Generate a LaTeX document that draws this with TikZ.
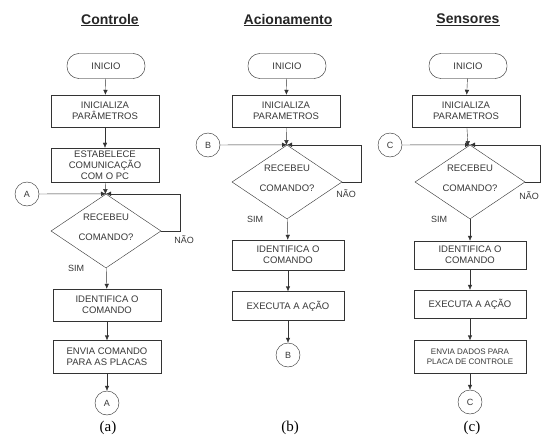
\documentclass[tikz,border=0pt]{standalone}
\usepackage{fontspec}
\setmainfont{Liberation Sans}
\newfontfamily\capfont{Liberation Serif}
\usetikzlibrary{shapes.geometric,arrows.meta,backgrounds}

\definecolor{linha}{gray}{0.2}
\definecolor{texto}{gray}{0.22}

% texto do losango sem alterar o tamanho dele
\newcommand{\pergunta}[2]{\makebox[0pt]{\smash{\begin{tabular}{@{}c@{}}#1\\[9pt]#2\end{tabular}}}}

\tikzset{
  passo/.style={draw=linha,fill=white,text=texto,align=center,inner sep=1pt,
    minimum width=108pt,minimum height=32pt,font=\fontsize{9.5}{11}\selectfont},
  inicio/.style={passo,rounded corners=12pt,minimum width=78pt,minimum height=25pt},
  decisao/.style={diamond,draw=linha,fill=white,text=texto,inner sep=0pt,
    minimum width=110pt,minimum height=74pt,font=\fontsize{9.5}{11}\selectfont},
  conector/.style={circle,draw=linha,fill=white,text=texto,minimum size=24pt,inner sep=0pt,
    font=\fontsize{9}{10}\selectfont},
  titulo/.style={text=black!85,font=\fontsize{14}{16}\selectfont\bfseries},
  rotulo/.style={text=texto,font=\fontsize{9}{10}\selectfont},
  legenda/.style={font=\capfont\fontsize{15}{17}\selectfont},
  seta/.style={draw=linha,-{Latex[length=5pt,width=4.5pt]}},
  sombra/.style={fill=gray!55,shift={(3,3)}},
}

\begin{document}
\begin{tikzpicture}[x=1pt,y=-1pt]
\useasboundingbox (0,0) rectangle (546,441);

% (a) controle
\node[titulo] (ta) at (110,20) {\underline{Controle}};
\node[inicio] (a1) at (106,66) {INICIO};
\node[passo] (a2) at (105,111) {INICIALIZA\\PARÂMETROS};
\node[passo,minimum height=34pt] (a3) at (105,165) {ESTABELECE\\COMUNICAÇÃO\\COM O PC};
\node[decisao] (a4) at (106,231) {\pergunta{RECEBEU}{COMANDO?}};
\node[conector] (ca1) at (27,194) {A};
\node[passo] (a5) at (107,305) {IDENTIFICA O\\COMANDO};
\node[passo,minimum height=33pt] (a6) at (107,357) {ENVIA COMANDO\\PARA AS PLACAS};
\node[conector] (ca2) at (107,403) {A};
\node[legenda] (la) at (108,428) {(a)};

\draw[seta] (a1) -- (a2);
\draw[seta] (a2) -- (a3);
\draw[seta] (a3) -- (a4);
\draw[seta] (ca1) -- (a4.north);
\draw[seta] (a4.east) -- ++(19,0) |- (a4.north);
\draw[seta] (a4) -- (a5);
\draw[seta] (a5) -- (a6);
\draw[seta] (a6) -- (ca2);
\node[rotulo] at ([xshift=23pt,yshift=-9pt]a4.east) {NÃO};
\node[rotulo] at ([xshift=-30pt]a4.south) {SIM};

% (b) acionamento
\node[titulo] (tb) at (288,20) {\underline{Acionamento}};
\node[inicio] (b1) at (287,66) {INICIO};
\node[passo] (b2) at (286,111) {INICIALIZA\\PARAMETROS};
\node[decisao] (b3) at (287,182) {\pergunta{RECEBEU}{COMANDO?}};
\node[conector] (cb1) at (208,145) {B};
\node[passo,minimum width=112pt,minimum height=30pt] (b4) at (288,255) {IDENTIFICA O\\COMANDO};
\node[passo,minimum width=112pt,minimum height=29pt] (b5) at (288,306) {EXECUTA A AÇÃO};
\node[conector] (cb2) at (288,355) {B};
\node[legenda] (lb) at (290,428) {(b)};

\draw[seta] (b1) -- (b2);
\draw[seta] (b2) -- (b3);
\draw[seta] (cb1) -- (b3.north);
\draw[seta] (b3.east) -- ++(19,0) |- (b3.north);
\draw[seta] (b3) -- (b4);
\draw[seta] (b4) -- (b5);
\draw[seta] (b5) -- (cb2);
\node[rotulo] at ([xshift=4pt,yshift=-12pt]b3.east) {NÃO};
\node[rotulo] at ([xshift=-32pt]b3.south) {SIM};

% (c) sensores
\node[titulo] (tc) at (468,20) {\underline{Sensores}};
\node[inicio] (c1) at (468,66) {INICIO};
\node[passo] (c2) at (466,111) {INICIALIZA\\PARAMETROS};
\node[decisao] (c3) at (470,182) {\pergunta{RECEBEU}{COMANDO?}};
\node[conector] (cc1) at (390,145) {C};
\node[passo,minimum width=112pt,minimum height=28pt] (c4) at (470,255) {IDENTIFICA O\\COMANDO};
\node[passo,minimum width=112pt,minimum height=28pt] (c5) at (470,304) {EXECUTA A AÇÃO};
\node[passo,minimum width=112pt,minimum height=33pt,font=\fontsize{8}{10}\selectfont] (c6) at (470,357) {ENVIA DADOS PARA\\PLACA DE CONTROLE};
\node[conector] (cc2) at (470,402) {C};
\node[legenda] (lc) at (472,428) {(c)};

\draw[seta] (c1) -- (c2);
\draw[seta] (c2) -- (c3);
\draw[seta] (cc1) -- (c3.north);
\draw[seta] (c3.east) -- ++(15,0) |- (c3.north);
\draw[seta] (c3) -- (c4);
\draw[seta] (c4) -- (c5);
\draw[seta] (c5) -- (c6);
\draw[seta] (c6) -- (cc2);
\node[rotulo] at ([xshift=4pt,yshift=-14pt]c3.east) {NÃO};
\node[rotulo] at ([xshift=-31pt]c3.south) {SIM};

% fundo branco e sombras das caixas e dos conectores
\begin{pgfonlayer}{background}
  \fill[white] (0,0) rectangle (546,441);
  \foreach \n in {a2,a3,a5,a6,b2,b4,b5,c2,c4,c5,c6}
    \fill[sombra] (\n.north west) rectangle (\n.south east);
  \foreach \n in {a1,b1,c1}
    \fill[sombra,rounded corners=12pt] (\n.north west) rectangle (\n.south east);
  \foreach \n in {ca1,ca2,cb1,cb2,cc1,cc2}
    \fill[sombra] (\n.center) circle (12);
\end{pgfonlayer}
\end{tikzpicture}
\end{document}
